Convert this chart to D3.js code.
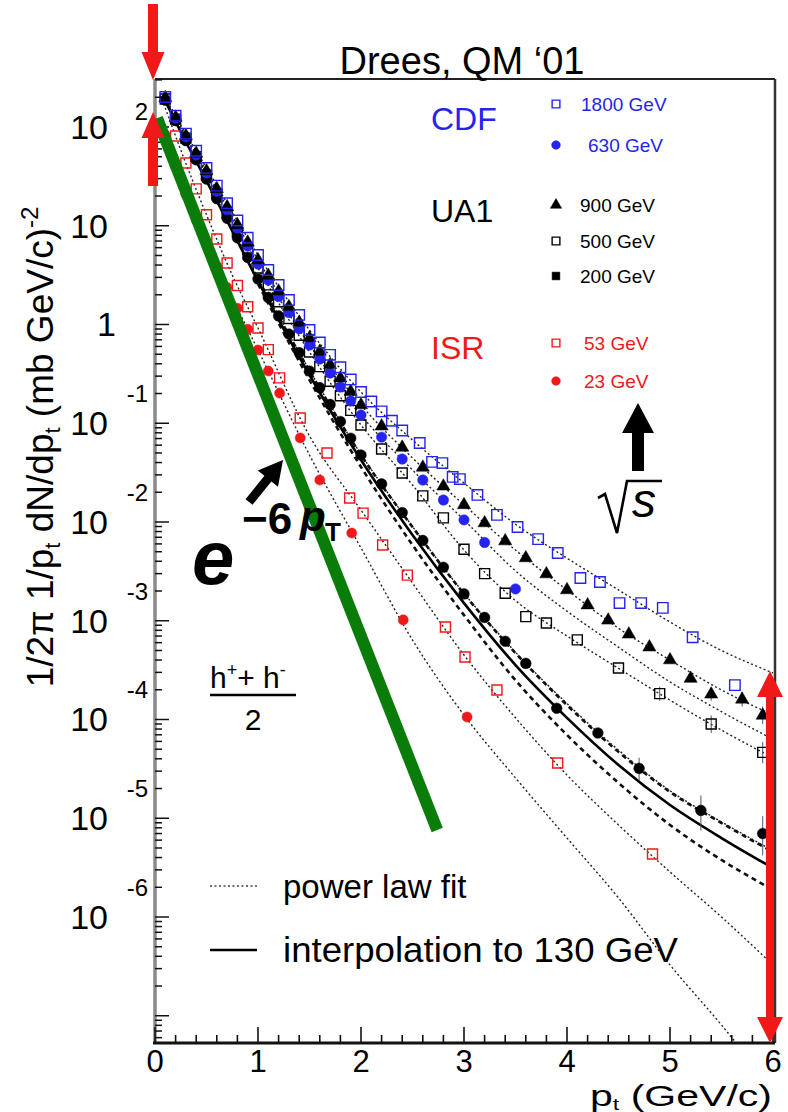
<!DOCTYPE html>
<html><head><meta charset="utf-8">
<script src="https://cdn.jsdelivr.net/npm/d3@7"></script>
<style>
body{margin:0;background:#fff}
svg{display:block}
text{font-family:"Liberation Sans",Arial,Helvetica,sans-serif}
</style>
</head><body>
<svg id="c" width="788" height="1112"></svg>
<script>
// ---------------- data ----------------
const fitPt     = [0.1,0.25,0.5,0.75,1,1.5,2,2.5,3,3.5,4,4.5,5,5.5,6];
const fit1800   = [201,105,38.5,13.8,5.06,0.879,0.207,0.0676,0.0248,9.5e-3,4.3e-3,2.05e-3,9.7e-4,5.0e-4,2.96e-4];
const fit900    = [197,100,35.8,12.6,4.50,0.730,0.153,0.0445,0.0149,5.2e-3,2.05e-3,8.4e-4,4.0e-4,1.99e-4,1.11e-4];
const fit630    = [197,97.7,34.2,11.7,4.09,0.619,0.121,0.0336,0.0105,3.2e-3,1.25e-3,5.4e-4,2.4e-4,1.2e-4,6.3e-5];
const fit500    = [192,95.5,32.7,10.9,3.73,0.526,0.0959,0.0237,5.2e-3,1.6e-3,7.0e-4,3.3e-4,1.57e-4,7.8e-5,4.1e-5];
const fit200    = [187,91,29.7,9.5,2.95,0.345,0.0485,9.0e-3,1.9e-3,4.8e-4,1.45e-4,4.9e-5,1.9e-5,9.2e-6,4.7e-6];
const fit53     = [156,58.5,12.9,3.17,0.92,0.0743,0.0132,2.41e-3,4.5e-4,1.04e-4,2.74e-5,8.55e-6,2.86e-6,1.0e-6,3.27e-7];
const fit23     = [83,27.7,6.38,1.85,0.552,0.0476,5.46e-3,6.38e-4,1.11e-4,2.56e-5,6.3e-6,1.56e-6,3.27e-7,8.05e-8,1.77e-8];
const interp130 = [183,89,28.4,8.85,2.75,0.308,0.0425,7.4e-3,1.51e-3,3.56e-4,1.04e-4,3.46e-5,1.36e-5,6.3e-6,3.13e-6];
const bandPt    = [1,1.5,2,2.5,3,3.5,4,4.5,5,5.5,6];
const bandUp    = [2.89,0.338,0.0476,8.9e-3,1.87e-3,4.7e-4,1.40e-4,4.7e-5,1.85e-5,8.95e-6,4.55e-6];
const bandLo    = [2.57,0.274,0.0361,5.85e-3,1.14e-3,2.5e-4,6.97e-5,2.28e-5,8.55e-6,3.78e-6,1.88e-6];

const cdf1800Pt = [0.1,0.2,0.3,0.4,0.5,0.6,0.7,0.8,0.9,1.0,1.1,1.2,1.3,1.4,1.5,1.6,1.7,1.8,1.9,2.0,2.1,2.2,2.3,2.4,2.57,2.69,2.79,2.89,2.96,3.13,3.32,3.52,3.72,3.91,4.13,4.32,4.51,4.72,4.93,5.22,5.63];
const cdf1800Y  = [201,130,85.7,57.4,38.5,25.5,16.9,11.3,7.55,5.06,3.56,2.51,1.77,1.25,0.879,0.658,0.493,0.369,0.277,0.207,0.166,0.132,0.106,0.0845,0.0631,0.0406,0.0395,0.0286,0.0272,0.0188,0.0118,8.9e-3,6.7e-3,4.85e-3,2.71e-3,2.47e-3,1.51e-3,1.51e-3,1.35e-3,6.8e-4,2.23e-4];
const cdf630Pt  = [0.2,0.3,0.4,0.5,0.6,0.7,0.8,0.9,1.0,1.1,1.2,1.3,1.4,1.5,1.6,1.7,1.8,1.9,2.0,2.2,2.4,2.6,2.8,3.0,3.2,3.5];
const cdf630Y   = [123,79.3,52.0,34.2,22.3,14.5,9.48,6.22,4.09,2.81,1.92,1.32,0.904,0.619,0.447,0.322,0.233,0.168,0.121,0.0724,0.0434,0.0266,0.0167,0.0105,6.2e-3,2.1e-3];
const ua1900Pt  = [0.1,0.2,0.3,0.4,0.5,0.6,0.7,0.8,0.9,1.0,1.1,1.2,1.3,1.4,1.5,1.6,1.7,1.8,1.9,2.0,2.2,2.4,2.6,2.8,3.0,3.2,3.4,3.6,3.8,4.0,4.2,4.4,4.6,4.8,5.0,5.2,5.4,5.7,5.9];
const ua1900Y   = [197,125,81.5,54.0,35.8,23.6,15.5,10.2,6.79,4.50,3.13,2.17,1.51,1.05,0.730,0.533,0.391,0.286,0.209,0.153,0.0933,0.0569,0.0357,0.0230,0.0149,9.77e-3,6.41e-3,4.32e-3,2.97e-3,2.05e-3,1.44e-3,1.01e-3,7.3e-4,5.4e-4,4.0e-4,2.6e-4,1.8e-4,1.6e-4,1.1e-4];
const ua1500Pt  = [0.1,0.2,0.3,0.4,0.5,0.6,0.7,0.8,0.9,1.0,1.1,1.2,1.3,1.4,1.5,1.6,1.7,1.8,1.9,2.0,2.2,2.4,2.6,2.8,3.0,3.2,3.4,3.6,3.8,4.1,4.5,4.9,5.4,5.9];
const ua1500Y   = [192,120,77.1,50.1,32.7,21.1,13.6,8.81,5.74,3.73,2.52,1.70,1.15,0.778,0.526,0.374,0.266,0.190,0.135,0.0959,0.0548,0.0313,0.0184,0.0110,5.3e-3,3.0e-3,1.9e-3,1.1e-3,9.5e-4,6.4e-4,3.32e-4,1.83e-4,9.0e-5,4.65e-5];
const ua1200Pt  = [0.1,0.2,0.3,0.4,0.5,0.6,0.7,0.8,0.9,1.0,1.1,1.2,1.3,1.4,1.5,1.6,1.7,1.8,1.9,2.0,2.2,2.4,2.6,2.8,3.0,3.2,3.4,3.6,3.9,4.3,4.7,5.3,5.9];
const ua1200Y   = [187,116,72.8,46.5,29.7,18.8,11.9,7.55,4.78,2.89,1.88,1.22,0.80,0.519,0.338,0.229,0.155,0.104,0.0705,0.0476,0.0243,0.01245,6.5e-3,3.48e-3,1.87e-3,1.08e-3,6.2e-4,3.7e-4,1.3e-4,7.3e-5,3.2e-5,1.2e-5,7.0e-6];
const isr53Pt   = [0.2,0.3,0.4,0.5,0.6,0.7,0.8,0.9,1.0,1.1,1.21,1.41,1.67,1.89,2.02,2.21,2.45,2.82,3.01,3.32,3.91,4.83];
const isr53Y    = [81,43.2,23.6,12.9,7.35,4.20,2.48,1.51,0.92,0.556,0.288,0.113,0.050,0.0175,0.0123,5.85e-3,2.9e-3,8.65e-4,4.3e-4,1.99e-4,3.62e-5,4.35e-6];
const isr23Pt   = [0.1,0.2,0.3,0.4,0.5,0.6,0.7,0.8,0.9,1.0,1.1,1.21,1.41,1.60,1.91,2.41,3.03];
const isr23Y    = [83,40.0,20.7,11.5,6.38,3.89,2.37,1.46,0.895,0.552,0.338,0.202,0.071,0.0266,7.74e-3,1.02e-3,1.06e-4];

// error bars on the highest-pt UA1 points
const errPt = [4.7,5.3,5.9, 4.9,5.4,5.9, 5.4,5.7,5.9];
const errLo = [2.4e-5,7.5e-6,4.2e-6, 1.55e-4,7.3e-5,3.6e-5, 1.55e-4,1.35e-4,9.0e-5];
const errHi = [4.1e-5,1.7e-5,1.05e-5, 2.15e-4,1.1e-4,5.9e-5, 2.1e-4,1.9e-4,1.35e-4];

const expoPt    = [0.02,2.74];           // e^{-6 pT} guide line
const expoY     = [123,7.6e-6];

const xTickLabels = ["0","1","2","3","4","5","6"];
const yTickExps   = [2,1,0,-1,-2,-3,-4,-5,-6];

const legendGroups = ["CDF","UA1","ISR"];
const legendLabels = ["1800 GeV","630 GeV","900 GeV","500 GeV","200 GeV","53 GeV","23 GeV"];

// ---------------- drawing ----------------
const BLUE="#2424ee", RED="#f01818", GREEN="#0a7c0a";
const svg = d3.select("#c");
const L=155, R=775, T=79, B=1043;
const x = d3.scaleLinear().domain([0,6]).range([155,773]);
const y = d3.scaleLog().domain([Math.pow(10,-7.276), Math.pow(10,2.486)]).range([B,T]);

svg.append("defs").append("clipPath").attr("id","pc")
  .append("rect").attr("x",L).attr("y",T).attr("width",R-L).attr("height",B-T);

const plot = svg.append("g").attr("clip-path","url(#pc)");
const zip = (a,b)=>a.map((v,i)=>[v,b[i]]);
const line = d3.line().x(d=>x(d[0])).y(d=>y(d[1])).curve(d3.curveMonotoneX);

// power-law fits (dotted)
[fit1800,fit900,fit630,fit500,fit200,fit53,fit23].forEach(f=>{
  plot.append("path").attr("d",line(zip(fitPt,f))).attr("fill","none")
    .attr("stroke","#222").attr("stroke-width",1.4).attr("stroke-dasharray","2,2.5");
});
// interpolation band (dashed) and interpolation (solid)
[bandUp,bandLo].forEach(f=>{
  plot.append("path").attr("d",line(zip(bandPt,f))).attr("fill","none")
    .attr("stroke","#111").attr("stroke-width",2.6).attr("stroke-dasharray","5,4");
});
plot.append("path").attr("d",line(zip(fitPt,interp130))).attr("fill","none")
  .attr("stroke","#000").attr("stroke-width",2.6);

// error bars
plot.append("g").selectAll("line").data(errPt).join("line")
  .attr("x1",d=>x(d)).attr("x2",d=>x(d))
  .attr("y1",(d,i)=>y(errLo[i])).attr("y2",(d,i)=>y(errHi[i]))
  .attr("stroke","#555").attr("stroke-width",1);

// markers
function markers(pts,vals,type,color,filled,size){
  const sym = d3.symbol().type(type).size(size);
  plot.append("g").selectAll("path").data(zip(pts,vals)).join("path")
    .attr("transform",d=>`translate(${x(d[0])},${y(d[1])})`)
    .attr("d",sym)
    .attr("fill",filled?color:"none")
    .attr("stroke",color).attr("stroke-width",filled?0.5:1.4);
}
markers(isr23Pt,isr23Y,d3.symbolCircle,RED,true,80);
markers(isr53Pt,isr53Y,d3.symbolSquare,RED,false,100);
markers(ua1200Pt,ua1200Y,d3.symbolCircle,"#000",true,90);
markers(ua1500Pt,ua1500Y,d3.symbolSquare,"#000",false,100);
markers(cdf630Pt,cdf630Y,d3.symbolCircle,BLUE,true,85);
markers(ua1900Pt,ua1900Y,d3.symbolTriangle,"#000",true,75);
markers(cdf1800Pt,cdf1800Y,d3.symbolSquare,BLUE,false,110);

// frame
svg.append("line").attr("x1",L).attr("x2",R).attr("y1",T).attr("y2",T).attr("stroke","#222").attr("stroke-width",2);
svg.append("line").attr("x1",R).attr("x2",R).attr("y1",T).attr("y2",B).attr("stroke","#333").attr("stroke-width",2.5);
svg.append("line").attr("x1",L).attr("x2",L).attr("y1",T).attr("y2",B).attr("stroke","#8a8a8a").attr("stroke-width",3.5);
svg.append("line").attr("x1",L-2).attr("x2",R).attr("y1",B).attr("y2",B).attr("stroke","#111").attr("stroke-width",3);

// y ticks
const yt = svg.append("g");
for(let e=-8;e<=2;e++){
  for(let k=1;k<=9;k++){
    const v=k*Math.pow(10,e);
    if(v<y.domain()[0]||v>y.domain()[1]) continue;
    yt.append("line").attr("x1",L).attr("x2",L+(k===1?14:7))
      .attr("y1",y(v)).attr("y2",y(v)).attr("stroke","#111").attr("stroke-width",1.5);
  }
}
// x ticks
const xt = svg.append("g");
for(let i=0;i<=30;i++){
  const v=i*0.2;
  xt.append("line").attr("x1",x(v)).attr("x2",x(v)).attr("y1",B).attr("y2",B-(i%5===0?16:8))
    .attr("stroke","#111").attr("stroke-width",1.6);
}
// x tick labels
svg.append("g").selectAll("text").data(xTickLabels).join("text")
  .attr("x",(d,i)=>x(i)).attr("y",1071.5).attr("text-anchor","middle")
  .attr("font-size",31).text(d=>d);
// y tick labels
const yl = svg.append("g").attr("font-size",34);
yTickExps.forEach(e=>{
  const ty=y(Math.pow(10,e));
  if(e===0){ yl.append("text").attr("x",116).attr("y",ty+12).attr("text-anchor","end").text("1"); return; }
  yl.append("text").attr("x",108).attr("y",ty+12).attr("text-anchor","end").text("10");
  if(e===1) return;
  yl.append("text").attr("x",148).attr("y",e===2?ty-7:ty-21).attr("text-anchor","end")
    .attr("font-size",24).text(String(e));
});

// axis titles
const xtitle = svg.append("text").attr("x",590).attr("y",1105.5).attr("font-size",30)
  .attr("textLength",182).attr("lengthAdjust","spacingAndGlyphs");
xtitle.append("tspan").text("p");
xtitle.append("tspan").attr("font-size",17).attr("dy",4).text("t");
xtitle.append("tspan").attr("dy",-4).text(" (GeV/c)");

const ytitle = svg.append("text").attr("transform","translate(53,447) rotate(-90)")
  .attr("text-anchor","middle").attr("font-size",37);
ytitle.append("tspan").text("1/2\u03c0 1/p");
ytitle.append("tspan").attr("font-size",22).attr("dy",7).text("t");
ytitle.append("tspan").attr("dy",-7).text(" dN/dp");
ytitle.append("tspan").attr("font-size",22).attr("dy",7).text("t");
ytitle.append("tspan").attr("dy",-7).text(" (mb GeV/c)");
ytitle.append("tspan").attr("font-size",24).attr("dy",-15).text("-2");

// title
svg.append("text").attr("x",462).attr("y",74).attr("text-anchor","middle").attr("font-size",38)
  .text("Drees, QM \u201801");

// legend (top right)
const lg = svg.append("g");
const grpY=[130,222,359], grpC=[BLUE,"#000",RED];
legendGroups.forEach((g,i)=>lg.append("text").attr("x",431).attr("y",grpY[i]).attr("font-size",32).attr("fill",grpC[i]).text(g));
const entY=[104,145,205,241,276,343,381];
const entC=[BLUE,BLUE,"#000","#000","#000",RED,RED];
const entSym=[d3.symbolSquare,d3.symbolCircle,d3.symbolTriangle,d3.symbolSquare,d3.symbolSquare,d3.symbolSquare,d3.symbolCircle];
const entFill=[false,true,true,false,true,false,true];
const entTx=[581,588,580,580,580,584,584];
legendLabels.forEach((t,i)=>{
  lg.append("path").attr("transform",`translate(556,${entY[i]})`)
    .attr("d",d3.symbol().type(entSym[i]).size(entSym[i]===d3.symbolTriangle?55:60)())
    .attr("fill",entFill[i]?entC[i]:"none").attr("stroke",entC[i]).attr("stroke-width",entFill[i]?0.5:1.4);
  lg.append("text").attr("x",entTx[i]).attr("y",entY[i]+7).attr("font-size",19).attr("fill",entC[i]).text(t);
});

// h+ + h- / 2
const h = svg.append("text").attr("x",210).attr("y",688).attr("font-size",30);
h.append("tspan").text("h");
h.append("tspan").attr("font-size",18).attr("dy",-12).text("+");
h.append("tspan").attr("dy",12).text("+ h");
h.append("tspan").attr("font-size",18).attr("dy",-12).text("-");
svg.append("line").attr("x1",210).attr("x2",296).attr("y1",695).attr("y2",695).attr("stroke","#000").attr("stroke-width",2.5);
svg.append("text").attr("x",253).attr("y",730).attr("text-anchor","middle").attr("font-size",30).text("2");

// bottom legend
svg.append("line").attr("x1",210).attr("x2",257).attr("y1",886).attr("y2",886)
  .attr("stroke","#444").attr("stroke-width",1.4).attr("stroke-dasharray","2,2.5");
svg.append("text").attr("x",283).attr("y",898).attr("font-size",33).text("power law fit");
svg.append("line").attr("x1",210).attr("x2",257).attr("y1",950).attr("y2",950)
  .attr("stroke","#000").attr("stroke-width",2.6);
svg.append("text").attr("x",283).attr("y",962).attr("font-size",35)
  .attr("textLength",395).attr("lengthAdjust","spacingAndGlyphs").text("interpolation to 130 GeV");

// green exponential guide
svg.append("line").attr("x1",x(expoPt[0])).attr("y1",y(expoY[0])).attr("x2",x(expoPt[1])).attr("y2",y(expoY[1]))
  .attr("stroke",GREEN).attr("stroke-width",12);

// arrows
function arrow(x0,y0,x1,y1,shaft,headW,headL,color){
  const len=Math.hypot(x1-x0,y1-y0), ang=Math.atan2(y1-y0,x1-x0)*180/Math.PI;
  const s=shaft/2,hw=headW/2;
  svg.append("path").attr("transform",`translate(${x0},${y0}) rotate(${ang})`)
    .attr("d",`M0,${-s}L${len-headL},${-s}L${len-headL},${-hw}L${len},0L${len-headL},${hw}L${len-headL},${s}L0,${s}Z`)
    .attr("fill",color);
}
arrow(153,4,153,80,10,23,28,RED);
arrow(153,186,153,112,10,23,26,RED);
arrow(770,860,770,671,8,26,26,RED);
arrow(770,855,770,1043,8,26,26,RED);
arrow(249,502,283,460,9,26,24,"#000");
arrow(638,471,638,403,12,32,30,"#000");

// e^{-6 pT}
svg.append("text").attr("x",192).attr("y",584).attr("font-family","Liberation Serif,Times New Roman,serif")
  .attr("font-style","italic").attr("font-weight","bold").attr("font-size",76).text("e");
svg.append("text").attr("x",242).attr("y",534).attr("font-family","Liberation Serif,Times New Roman,serif")
  .attr("font-weight","bold").attr("font-size",44).text("\u22126");
svg.append("text").attr("x",300).attr("y",531).attr("font-family","Liberation Serif,Times New Roman,serif")
  .attr("font-style","italic").attr("font-weight","bold").attr("font-size",42).text("p");
svg.append("text").attr("x",325).attr("y",541).attr("font-family","Liberation Serif,Times New Roman,serif")
  .attr("font-weight","bold").attr("font-size",26).text("T");

// sqrt(s)
svg.append("path").attr("d","M598,498L605,494L617,533L627,481L662,481").attr("fill","none")
  .attr("stroke","#000").attr("stroke-width",2.6).attr("stroke-linejoin","miter");
svg.append("text").attr("x",632).attr("y",517).attr("font-family","Liberation Serif,Times New Roman,serif")
  .attr("font-style","italic").attr("font-size",48).text("s");
</script>
</body></html>
